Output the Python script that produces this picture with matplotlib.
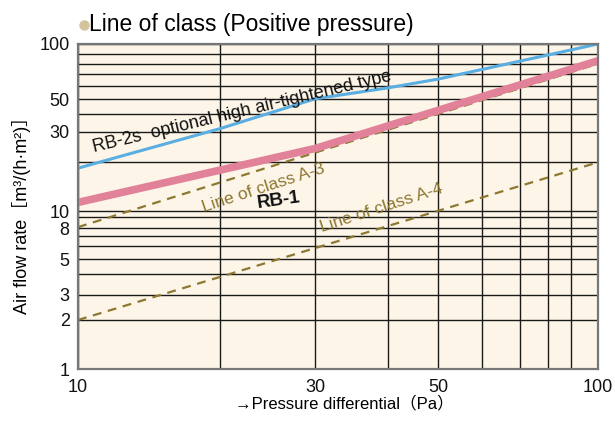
import numpy as np
import matplotlib.pyplot as plt
from matplotlib.lines import Line2D

# grid values of the printed chart
x_grid = [10, 20, 30, 40, 50, 60, 70, 80, 90, 100]
y_grid = [1, 2, 3, 4, 5, 6, 7, 8, 9, 10, 20, 30, 40, 50, 60, 70, 80, 90, 100]
x_labels = [10, 30, 50, 100]
y_labels = [1, 2, 3, 5, 8, 10, 30, 50, 100]

# lines (pressure Pa -> air flow rate)
rb2s_x = [10, 20, 30, 40, 50, 100]
rb2s_y = [18.4, 31.5, 50.3, 58.5, 65.7, 100]
rb1_x = [10, 30, 100]
rb1_y = [11.3, 24.0, 83]
a3_x = [10, 100]
a3_y = [8.1, 80]
a4_x = [10, 100]
a4_y = [2, 20]

# the printed log grid is not quite even, so calibrate the axes to it
x_cal = [78, 219.6, 315, 388, 438, 482, 519.6, 548, 570.6, 598]
y_cal = [-369, -320, -294.7, -274, -259, -246.3, -235.7, -228.3, -217.3, -211,
         -162.3, -131.7, -114.3, -99.3, -86, -74.3, -63.7, -54.3, -44]
lx = np.log10(x_grid)
ly = np.log10(y_grid)

def fwd_x(v):
    return np.interp(np.log10(np.clip(v, 1e-6, None)), lx, x_cal)

def inv_x(p):
    return 10 ** np.interp(p, x_cal, lx)

def fwd_y(v):
    return np.interp(np.log10(np.clip(v, 1e-6, None)), ly, y_cal)

def inv_y(p):
    return 10 ** np.interp(p, y_cal, ly)

W, H = 615, 426
plt.rcParams['font.family'] = ['Liberation Sans', 'Noto Sans CJK JP', 'DejaVu Sans']

fig = plt.figure(figsize=(W / 100, H / 100), dpi=100)
ax = fig.add_axes([78 / W, 1 - 369 / H, 520 / W, 325 / H])
ax.set_facecolor('#fdf5e8')
ax.set_xscale('function', functions=(fwd_x, inv_x))
ax.set_yscale('function', functions=(fwd_y, inv_y))
ax.set_xlim(10, 100)
ax.set_ylim(1, 100)

ax.set_xticks(x_labels)
ax.set_xticklabels([str(v) for v in x_labels])
ax.set_xticks([v for v in x_grid if v not in x_labels], minor=True)
ax.set_yticks(y_labels)
ax.set_yticklabels([str(v) for v in y_labels])
ax.set_yticks([v for v in y_grid if v not in y_labels], minor=True)
ax.tick_params(which='both', length=0, labelsize=13, colors='#111')
ax.tick_params(axis='x', pad=7)
ax.tick_params(axis='y', pad=6)
ax.grid(True, which='both', color='#1a1a1a', lw=1.0)
ax.set_axisbelow(True)
for s in ax.spines.values():
    s.set_color('#777')
    s.set_linewidth(1.6)

ax.plot(a3_x, a3_y, color='#8c7830', lw=1.6, ls=(0, (4, 3)))
ax.plot(a4_x, a4_y, color='#8c7830', lw=1.6, ls=(0, (4, 3)))
ax.plot(rb1_x, rb1_y, color='#e2829a', lw=5.5, solid_capstyle='butt')
ax.plot(rb2s_x, rb2s_y, color='#5aaee2', lw=2.2)

def px(x, y):
    return x / W, 1 - y / H

fig.text(*px(94, 152), 'RB-2s  optional high air-tightened type',
         fontsize=13, rotation=13.5, color='#111',
         rotation_mode='anchor', ha='left', va='baseline')
fig.text(*px(279, 201), 'RB-1', fontsize=13.5, fontweight='bold', color='#111',
         rotation=8, rotation_mode='anchor', ha='center', va='center')
fig.text(*px(263, 188), 'Line of class A-3', color='#8c7830', fontsize=12.5,
         rotation=18, rotation_mode='anchor', ha='center', va='center')
fig.text(*px(381, 208), 'Line of class A-4', color='#8c7830', fontsize=12.5,
         rotation=18, rotation_mode='anchor', ha='center', va='center')

fig.add_artist(Line2D([84 / W], [1 - 24.5 / H], transform=fig.transFigure,
                      marker='o', ms=6.5, color='#d3c49e', lw=0))
fig.text(*px(89, 31.4), 'Line of class (Positive pressure)', fontsize=16.5,
         va='baseline')
fig.text(*px(344, 403), '→Pressure differential（Pa）', fontsize=12,
         ha='center', va='center')
fig.text(*px(22, 211), 'Air flow rate［m³/(h·m²)］', fontsize=13, rotation=90,
         ha='center', va='center')

fig.savefig('out.png', dpi=100)
